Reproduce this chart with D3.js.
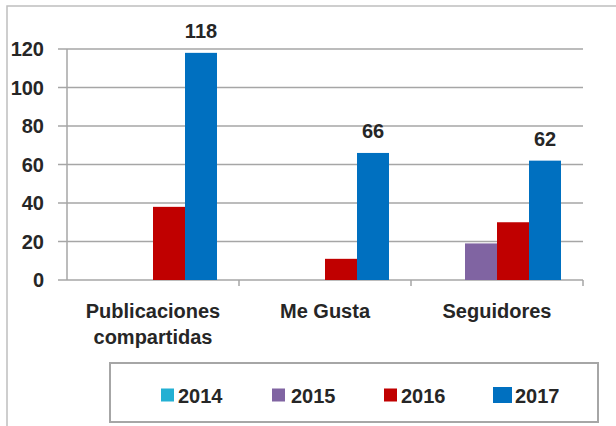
<!DOCTYPE html>
<html>
<head>
	<script src="https://cdn.jsdelivr.net/npm/d3@7"></script>
</head>
<style type="text/css">
	body { margin: 0; background: #fff; }
	text { font-family: "Liberation Sans", Arial, sans-serif; font-weight: bold; fill: #262626; }
	.grid line { stroke: #a6a6a6; stroke-width: 1.5; }
</style>
<body>
<div id=chart></div>
<script>

var categories = ["Publicaciones\ncompartidas", "Me Gusta", "Seguidores"];
var years = ["2014", "2015", "2016", "2017"];
var v2014 = [0, 0, 0];
var v2015 = [0, 0, 19];
var v2016 = [38, 11, 30];
var v2017 = [118, 66, 62];
var yTicks = [0, 20, 40, 60, 80, 100, 120];
var colors = ["#23b0d3", "#8064a2", "#c00000", "#0070c0"];

var series = [v2014, v2015, v2016, v2017];

// plot area (note: "top" is taken by window.top)
var W = 616, H = 426;
var plotL = 67, plotR = 583, plotT = 49, plotB = 280;

var svg = d3.select("#chart").append("svg")
	.attr("width", W)
	.attr("height", H);

// outer frame
svg.append("rect")
	.attr("x", 7).attr("y", 6)
	.attr("width", 700).attr("height", 500)
	.attr("fill", "none")
	.attr("stroke", "#bfbfbf")
	.attr("stroke-width", 1.5);

var x = d3.scaleBand().domain(categories).range([plotL, plotR]);
var xs = d3.scaleBand().domain(years).range([0, x.bandwidth()]).paddingOuter(0.6875);
var y = d3.scaleLinear().domain([0, 120]).range([plotB, plotT]);

// gridlines
svg.append("g").attr("class", "grid")
	.selectAll("line").data(yTicks).enter().append("line")
	.attr("x1", plotL - 9).attr("x2", plotR)
	.attr("y1", function(d) { return y(d); })
	.attr("y2", function(d) { return y(d); });

// y axis
svg.append("line")
	.attr("x1", plotL).attr("x2", plotL)
	.attr("y1", plotT).attr("y2", plotB)
	.attr("stroke", "#a6a6a6").attr("stroke-width", 1.5);

svg.append("g").selectAll("text").data(yTicks).enter().append("text")
	.attr("x", plotL - 23)
	.attr("y", function(d) { return y(d) + 7; })
	.attr("text-anchor", "end")
	.style("font-size", "20px")
	.text(function(d) { return d; });

// category ticks
svg.append("g").selectAll("line").data(categories).enter().append("line")
	.attr("x1", function(d) { return x(d) + x.bandwidth(); })
	.attr("x2", function(d) { return x(d) + x.bandwidth(); })
	.attr("y1", plotB).attr("y2", plotB + 6)
	.attr("stroke", "#a6a6a6").attr("stroke-width", 1.5);

// bars
series.forEach(function(vals, i) {
	svg.append("g").selectAll("rect").data(vals).enter().append("rect")
		.attr("x", function(d, j) { return x(categories[j]) + xs(years[i]); })
		.attr("width", xs.bandwidth())
		.attr("y", function(d) { return y(d); })
		.attr("height", function(d) { return plotB - y(d); })
		.attr("fill", colors[i]);
});

// labels on 2017
svg.append("g").selectAll("text").data(v2017).enter().append("text")
	.attr("x", function(d, j) { return x(categories[j]) + xs("2017") + xs.bandwidth() / 2; })
	.attr("y", function(d) { return y(d) - 15; })
	.attr("text-anchor", "middle")
	.style("font-size", "20px")
	.text(function(d) { return d; });

// category labels
categories.forEach(function(c) {
	var lines = c.split("\n");
	var t = svg.append("text")
		.attr("x", x(c) + x.bandwidth() / 2)
		.attr("y", 318)
		.attr("text-anchor", "middle")
		.style("font-size", "20px");
	lines.forEach(function(l, k) {
		t.append("tspan")
			.attr("x", x(c) + x.bandwidth() / 2)
			.attr("dy", k == 0 ? 0 : 26)
			.text(l);
	});
});

// legend
svg.append("rect")
	.attr("x", 110).attr("y", 363)
	.attr("width", 488).attr("height", 59)
	.attr("fill", "#fff")
	.attr("stroke", "#a6a6a6")
	.attr("stroke-width", 2);

var legX = [161, 272, 384, 493];
var legTx = [178, 291, 401, 515];
years.forEach(function(yr, i) {
	var sw = i == 3 ? 19 : 13, sh = i == 3 ? 16 : 13;
	svg.append("rect")
		.attr("x", legX[i]).attr("y", 395 - sh / 2)
		.attr("width", sw).attr("height", sh)
		.attr("fill", colors[i]);
	svg.append("text")
		.attr("x", legTx[i]).attr("y", 403)
		.style("font-size", "20px")
		.text(yr);
});

</script>
</body>
</html>
